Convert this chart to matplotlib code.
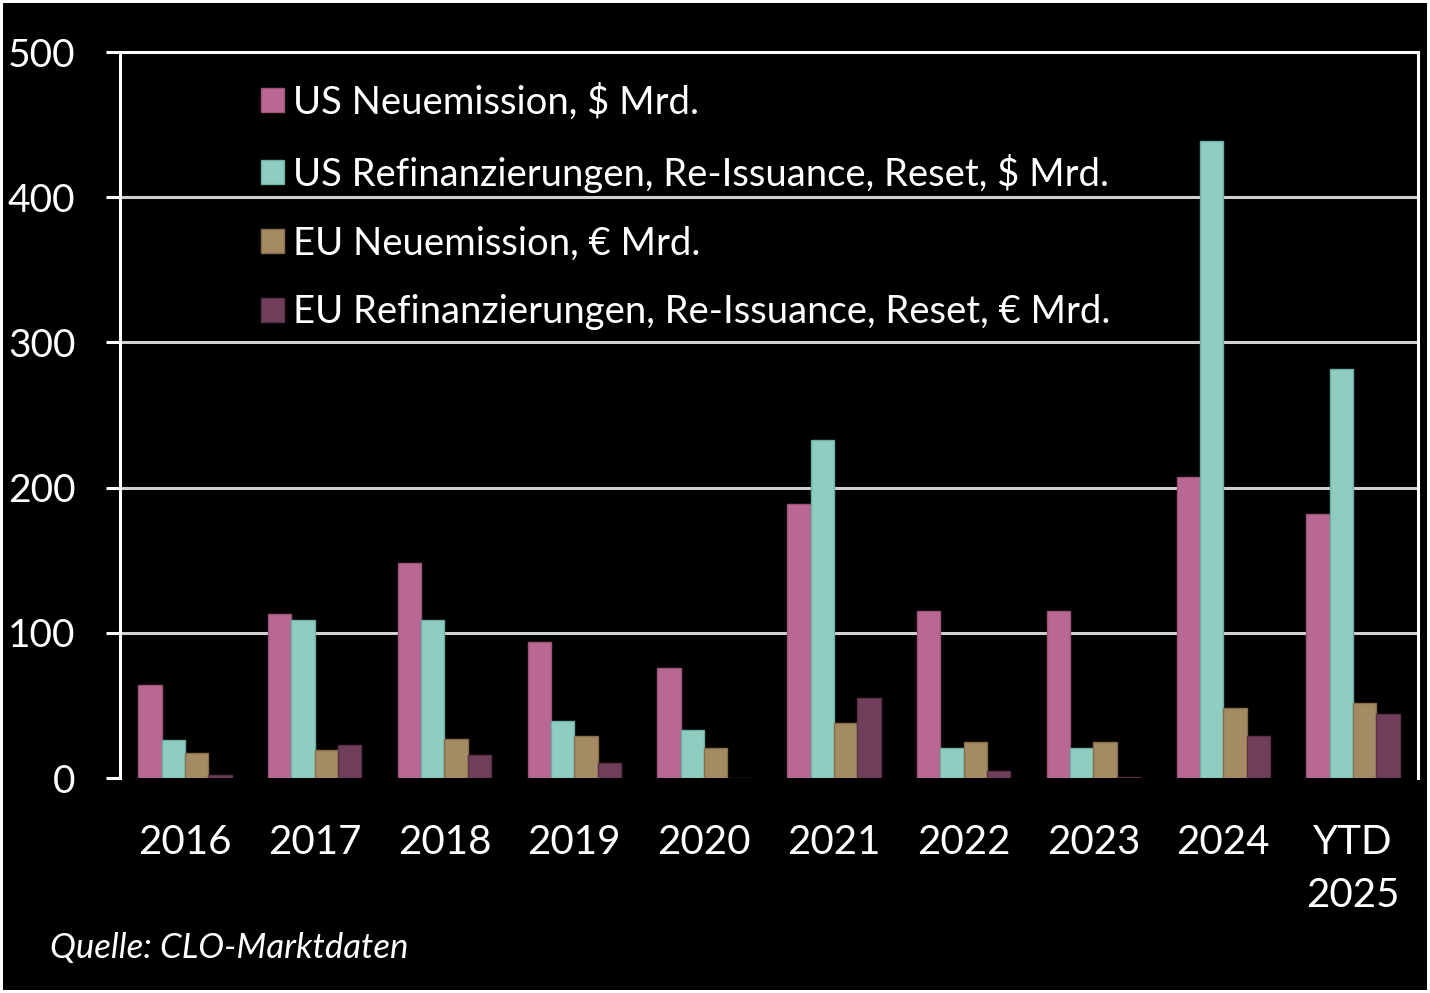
import numpy as np
import matplotlib
matplotlib.use('Agg')
import matplotlib.pyplot as plt

plt.rcParams['font.family'] = ['Lato', 'DejaVu Sans']

categories = ['2016', '2017', '2018', '2019', '2020', '2021', '2022', '2023', '2024', 'YTD\n2025']
usNew = [64, 113, 148, 94, 76, 189, 115, 115, 207, 182]
usRefi = [26, 109, 109, 39, 33, 233, 21, 21, 439, 282]
euNew = [17, 19, 27, 29, 21, 38, 25, 25, 48, 52]
euRefi = [2, 23, 16, 10, 0, 55, 5, 1, 29, 44]

labels = [
    'US Neuemission, $ Mrd.',
    'US Refinanzierungen, Re-Issuance, Reset, $ Mrd.',
    'EU Neuemission, € Mrd.',
    'EU Refinanzierungen, Re-Issuance, Reset, € Mrd.',
]
colors = ['#B96893', '#8FCDC1', '#A48B63', '#6F3F5A']
edges = ['#9A5478', '#6FAFA3', '#86704C', '#5A3048']

fig = plt.figure(figsize=(14.3, 9.93), dpi=100, facecolor='black',
                 edgecolor='white', linewidth=4)
ax = fig.add_axes([0.0839, 0.2165, 0.9077, 0.7311])
ax.set_facecolor('black')

x = np.arange(len(categories))
width = 0.18
offsets = [-1.5, -0.5, 0.5, 1.5]
for series, off, c, ec, lab in zip([usNew, usRefi, euNew, euRefi], offsets, colors, edges, labels):
    ax.bar(x + off*width, series, width, color=c, edgecolor=ec, linewidth=1, label=lab, zorder=3)

ax.set_xlim(-0.5, len(categories) - 0.5)
ax.set_ylim(0, 500)
ax.set_yticks([0, 100, 200, 300, 400, 500])
ax.set_xticks(x)
ax.set_xticklabels(categories)

# gridlines
for y in [100, 200, 300, 400]:
    ax.axhline(y, color='#D0D0D0', linewidth=2.2, zorder=1)

for side in ['left', 'top', 'right']:
    ax.spines[side].set_color('white')
    ax.spines[side].set_linewidth(2.2)
ax.spines['bottom'].set_visible(False)

ax.tick_params(axis='y', colors='white', labelcolor='white', length=10, width=2.2,
               pad=22, labelsize=28)
ax.tick_params(axis='x', length=0, pad=33, labelsize=29, labelcolor='white')
for lbl in ax.get_xticklabels():
    lbl.set_linespacing(1.55)

leg = ax.legend(loc='upper left', bbox_to_anchor=(0.082, 1.004), frameon=False,
                fontsize=27.5, handlelength=0.6, handleheight=0.6,
                handletextpad=0.25, labelspacing=0.86)
for t in leg.get_texts():
    t.set_color('white')

fig.text(0.035, 0.045, 'Quelle: CLO-Marktdaten', color='white', fontsize=25,
         style='italic', ha='left', va='center')

fig.savefig('out.png', dpi=100, facecolor=fig.get_facecolor(), edgecolor=fig.get_edgecolor())
